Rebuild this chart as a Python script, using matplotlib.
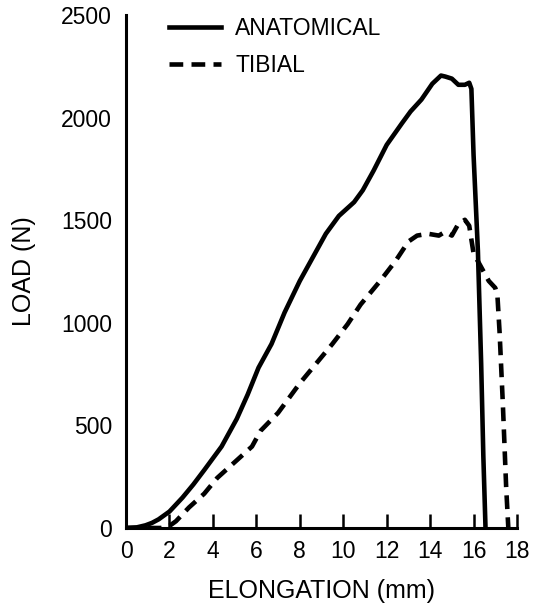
import matplotlib
matplotlib.use("Agg")
import matplotlib.pyplot as plt

plt.rcParams['font.family'] = ['Liberation Sans', 'DejaVu Sans']

# elongation (mm) / load (N)
anat_x = [0, 0.5, 0.9, 1.2, 1.5, 2.0, 2.6, 3.1, 3.6, 4.4, 5.1, 5.6, 6.1, 6.7, 7.3, 8.0,
          8.6, 9.2, 9.8, 10.5, 10.9, 11.4, 12.0, 12.7, 13.1, 13.6, 14.1, 14.5,
          14.7, 15.0, 15.3, 15.6, 15.8, 15.9, 16.0, 16.2, 16.35, 16.45, 16.55]
anat_y = [0, 3, 13, 25, 42, 80, 148, 212, 282, 397, 532, 650, 781, 897, 1050, 1204,
          1319, 1434, 1521, 1588, 1646, 1742, 1867, 1972, 2030, 2088, 2165, 2205,
          2200, 2190, 2160, 2160, 2170, 2140, 1818, 1350, 800, 350, 0]

tib_x = [0, 1.6, 2.0, 2.3, 2.9, 3.6, 4.2, 5.1, 5.8, 6.2, 7.0, 8.0, 8.9, 9.5,
         10.2, 10.8, 11.7, 12.4, 13.0, 13.4, 13.9, 14.4, 14.7, 15.0, 15.3,
         15.6, 15.8, 16.0, 16.3, 16.7, 17.0, 17.1, 17.2, 17.35, 17.5, 17.6]
tib_y = [0, 0, 10, 33, 100, 167, 244, 330, 397, 474, 561, 705, 820, 897,
         993, 1089, 1204, 1300, 1396, 1425, 1434, 1425, 1444, 1425, 1482,
         1502, 1473, 1338, 1281, 1204, 1170, 1130, 950, 600, 200, 0]

x_ticks = [0, 2, 4, 6, 8, 10, 12, 14, 16, 18]
y_ticks = [0, 500, 1000, 1500, 2000, 2500]

fig = plt.figure(figsize=(5.33, 6.16), dpi=100)
ax = fig.add_axes([0.2364, 0.1429, 0.7336, 0.8327])

ax.plot(anat_x, anat_y, color='black', lw=3.3, label='ANATOMICAL')
ax.plot(tib_x, tib_y, color='black', lw=3.3, dashes=(3, 1.8), label='TIBIAL')

ax.set_xlim(0, 18)
ax.set_ylim(0, 2500)
ax.set_xticks(x_ticks)
ax.set_yticks(y_ticks)

for side in ['top', 'right']:
    ax.spines[side].set_visible(False)
for side in ['left', 'bottom']:
    ax.spines[side].set_linewidth(2.2)

ax.tick_params(axis='x', direction='in', length=10, width=1.8, pad=9, labelsize=16.5)
ax.tick_params(axis='y', length=0, pad=10, labelsize=16.5)

ax.set_xlabel('ELONGATION (mm)', fontsize=18, labelpad=11)
ax.set_ylabel('LOAD (N)', fontsize=18, labelpad=18)

ax.legend(loc='upper left', bbox_to_anchor=(0.08, 1.018), frameon=False,
          fontsize=16.5, handlelength=2.3, handletextpad=0.6,
          labelspacing=0.6, borderpad=0)

fig.savefig('out.png', dpi=100)
